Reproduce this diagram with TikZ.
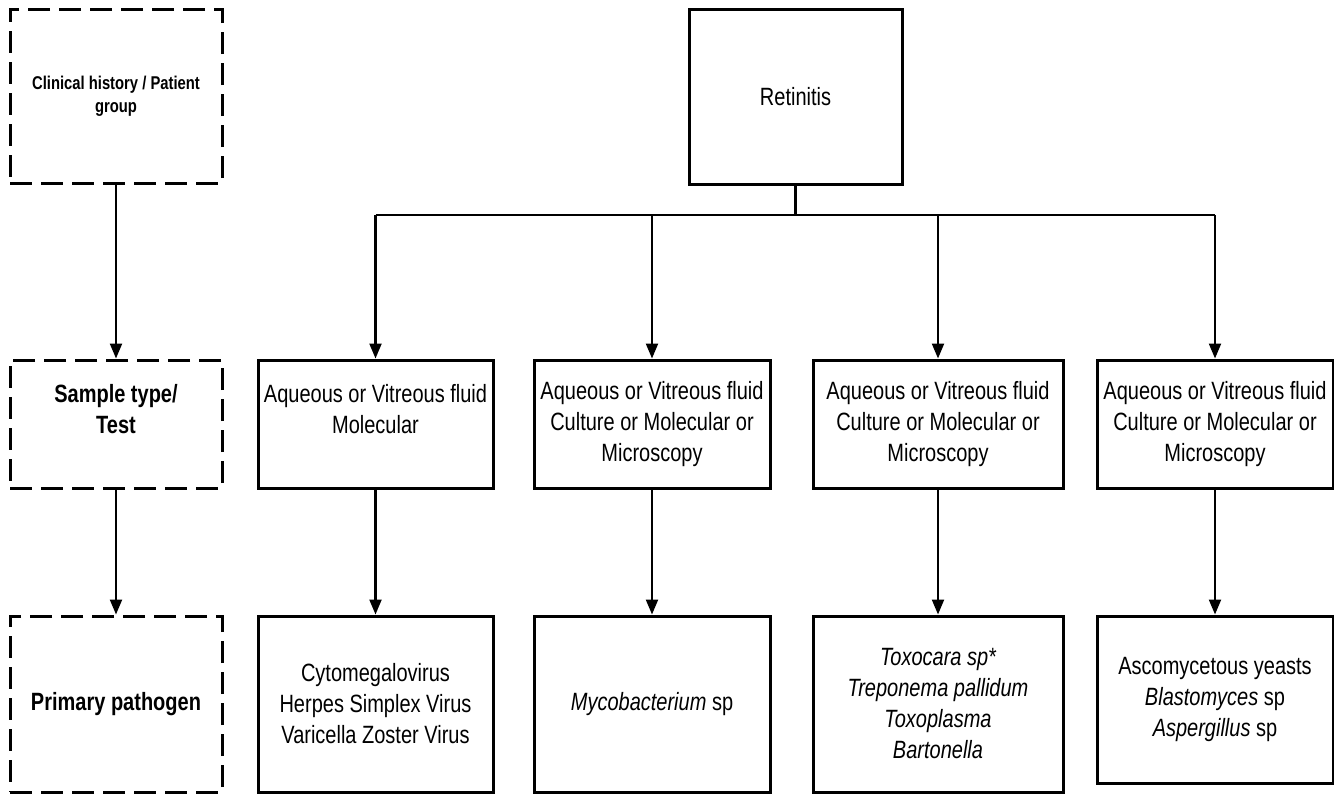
\documentclass[tikz,border=0pt]{standalone}
\usepackage{fontspec}
\setmainfont{Liberation Sans}[FakeStretch=0.8]
\usetikzlibrary{arrows.meta}
\begin{document}
\begin{tikzpicture}[x=1pt,y=-1pt,
  box/.style={draw, line width=3pt, align=center, inner sep=0pt,
    font=\fontsize{25}{31}\selectfont},
  dbox/.style={draw, line width=3pt, dash pattern=on 22pt off 9pt, align=center, inner sep=0pt,
    font=\bfseries\fontsize{25}{31}\selectfont},
  conn/.style={line width=2.2pt},
  arr/.style={conn, -{Triangle[length=15pt,width=12pt]}}
]
\useasboundingbox (0,0) rectangle (1334,793);
\fill[white] (0,0) rectangle (1334,793);

% left dashed column
\node[dbox, minimum width=212pt, minimum height=174pt, font=\bfseries\fontsize{18.5}{23}\selectfont] (h1) at (116,96) {Clinical history / Patient\\group};
\node[dbox, minimum width=212pt, minimum height=128pt] (h2) at (116,424) {Sample type/\\Test\\\mbox{}};
\node[dbox, minimum width=212pt, minimum height=176pt] (h3) at (116,704) {Primary pathogen};
\draw[arr] (h1.south) -- (h2.north);
\draw[arr] (h2.south) -- (h3.north);

% top
\node[box, minimum width=213pt, minimum height=175pt] (ret) at (795.5,96.5) {Retinitis};

% middle row
\node[box, minimum width=235pt, minimum height=128pt] (sa) at (375.5,424) {Aqueous or Vitreous fluid\\Molecular\\\mbox{}};
\node[box, minimum width=236pt, minimum height=128pt] (sb) at (652,424) {Aqueous or Vitreous fluid\\Culture or Molecular or\\Microscopy};
\node[box, minimum width=250pt, minimum height=128pt] (sc) at (938,424) {Aqueous or Vitreous fluid\\Culture or Molecular or\\Microscopy};
\node[box, minimum width=236pt, minimum height=128pt] (sd) at (1215,424) {Aqueous or Vitreous fluid\\Culture or Molecular or\\Microscopy};

% bottom row
\node[box, minimum width=235pt, minimum height=176pt] (pa) at (375.5,704) {Cytomegalovirus\\Herpes Simplex Virus\\Varicella Zoster Virus};
\node[box, minimum width=236pt, minimum height=176pt] (pb) at (652,704) {\itshape Mycobacterium\upshape{} sp};
\node[box, minimum width=250pt, minimum height=176pt] (pc) at (938,704) {\itshape Toxocara sp*\\\itshape Treponema pallidum\\\itshape Toxoplasma\\\itshape Bartonella};
\node[box, minimum width=236pt, minimum height=167pt] (pd) at (1215,699.5) {Ascomycetous yeasts\\\textit{Blastomyces} sp\\\textit{Aspergillus} sp};

% tree connectors
\coordinate (bus) at (795.5,215);
\draw[conn] (ret.south) -- (bus);
\draw[conn] (sa.north |- bus) -- (sd.north |- bus);
\draw[arr] (sa.north |- bus) -- (sa.north);
\draw[arr] (sb.north |- bus) -- (sb.north);
\draw[arr] (sc.north |- bus) -- (sc.north);
\draw[arr] (sd.north |- bus) -- (sd.north);

\draw[arr] (sa.south) -- (pa.north);
\draw[arr] (sb.south) -- (pb.north);
\draw[arr] (sc.south) -- (pc.north);
\draw[arr] (sd.south) -- (pd.north);
\end{tikzpicture}
\end{document}
